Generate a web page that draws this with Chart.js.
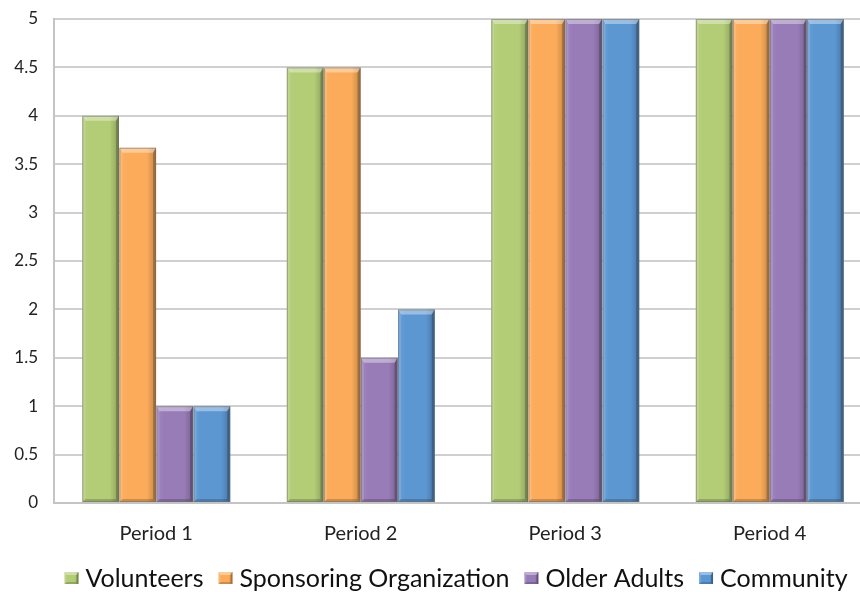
<!DOCTYPE html>
<html>
<head>
<meta charset="utf-8">
<script src="https://cdn.jsdelivr.net/npm/chart.js@4/dist/chart.umd.min.js"></script>
<style>
  html, body { margin: 0; padding: 0; background: #fff; overflow: hidden; }
  #wrap { width: 880px; height: 592px; position: relative; }
</style>
</head>
<body>
<div id="wrap"><canvas id="chart"></canvas></div>
<script>
// Periods on the x axis
const categories = ['Period 1', 'Period 2', 'Period 3', 'Period 4'];

// Ratings per group
const volunteers  = [4, 4.5, 5, 5];
const sponsoring  = [3.67, 4.5, 5, 5];
const olderAdults = [1, 1.5, 5, 5];
const community   = [1, 2, 5, 5];

const seriesNames = ['Volunteers', 'Sponsoring Organization', 'Older Adults', 'Community'];
const fills = ['#b3cc76', '#fbab5a', '#987cb8', '#5c97d2'];

// Draws a bevelled "3-D" rectangle overlay on top of an already filled box
function bevelBox(ctx, l, t, r, b, s, tb) {
  const g = ctx.createLinearGradient(l, 0, r, 0);
  g.addColorStop(0, 'rgba(255,255,255,0.08)');
  g.addColorStop(0.2, 'rgba(255,255,255,0)');
  g.addColorStop(0.75, 'rgba(0,0,0,0)');
  g.addColorStop(1, 'rgba(0,0,0,0.22)');
  ctx.fillStyle = g;
  ctx.fillRect(l, t, r - l, b - t);
  ctx.fillStyle = 'rgba(255,255,255,0.38)';
  ctx.beginPath();
  ctx.moveTo(l, t); ctx.lineTo(r, t); ctx.lineTo(r - s, t + tb); ctx.lineTo(l + s, t + tb);
  ctx.closePath(); ctx.fill();
  ctx.fillStyle = 'rgba(0,0,0,0.22)';
  ctx.beginPath();
  ctx.moveTo(r, t); ctx.lineTo(r, b); ctx.lineTo(r - s, b - s); ctx.lineTo(r - s, t + tb);
  ctx.closePath(); ctx.fill();
  ctx.fillStyle = 'rgba(0,0,0,0.18)';
  ctx.beginPath();
  ctx.moveTo(l, b); ctx.lineTo(r, b); ctx.lineTo(r - s, b - s); ctx.lineTo(l + s, b - s);
  ctx.closePath(); ctx.fill();
  ctx.fillStyle = 'rgba(255,255,255,0.12)';
  ctx.beginPath();
  ctx.moveTo(l, t); ctx.lineTo(l, b); ctx.lineTo(l + s, b - s); ctx.lineTo(l + s, t + tb);
  ctx.closePath(); ctx.fill();
}

// Bevel on each bar, taken from the bar elements' own geometry
const bevel = {
  id: 'bevel',
  afterDatasetsDraw(chart) {
    const ctx = chart.ctx;
    chart.data.datasets.forEach((ds, i) => {
      chart.getDatasetMeta(i).data.forEach(bar => {
        const p = bar.getProps(['x', 'y', 'base', 'width'], true);
        const l = p.x - p.width / 2, r = p.x + p.width / 2;
        const t = Math.min(p.y, p.base), b = Math.max(p.y, p.base);
        ctx.save();
        bevelBox(ctx, l, t, r, b, 3, 5);
        ctx.strokeStyle = 'rgba(110,110,110,0.55)';
        ctx.lineWidth = 1;
        ctx.strokeRect(l + 0.5, t + 0.5, r - l - 1, b - t - 1);
        ctx.restore();
      });
    });
  }
};

// Compact legend row under the axis labels
const compactLegend = {
  id: 'compactLegend',
  afterDraw(chart) {
    const ctx = chart.ctx;
    const font = '25px Lato';
    const box = 14, gapText = 7, gapItem = 15;
    ctx.save();
    ctx.font = font;
    const items = chart.data.datasets.map(ds => ({ text: ds.label, color: ds.backgroundColor, w: ctx.measureText(ds.label).width }));
    const total = items.reduce((s, it) => s + box + gapText + it.w, 0) + gapItem * (items.length - 1);
    let x = 456 - total / 2;
    const cy = 579;
    ctx.textBaseline = 'middle';
    ctx.textAlign = 'left';
    items.forEach(it => {
      ctx.fillStyle = it.color;
      ctx.fillRect(x, cy - 7, box, 12);
      bevelBox(ctx, x, cy - 7, x + box, cy + 5, 2, 3);
      ctx.fillStyle = '#111';
      ctx.fillText(it.text, x + box + gapText, cy);
      x += box + gapText + it.w + gapItem;
    });
    ctx.restore();
  }
};

const data = {
  labels: categories,
  datasets: [volunteers, sponsoring, olderAdults, community].map((vals, i) => ({
    label: seriesNames[i],
    data: vals,
    backgroundColor: fills[i],
    borderWidth: 0,
    barPercentage: 0.99,
    categoryPercentage: 0.725
  }))
};

new Chart(document.getElementById('chart'), {
  type: 'bar',
  data,
  plugins: [bevel, compactLegend],
  options: {
    responsive: true,
    maintainAspectRatio: false,
    animation: false,
    layout: { padding: { top: 19, right: 8, left: 0, bottom: 37 } },
    scales: {
      x: {
        grid: { display: false, drawTicks: false },
        border: { display: true, color: '#c4c4c4', width: 2 },
        ticks: { padding: 19, color: '#222', font: { family: 'Lato', size: 20 } },
        afterFit(scale) { scale.height = 52; }
      },
      y: {
        min: 0, max: 5,
        ticks: {
          stepSize: 0.5, padding: 16, color: '#222',
          font: { family: 'Lato', size: 17 },
          callback: v => String(v)
        },
        grid: { color: '#d0d0d0', lineWidth: 2, drawTicks: false },
        border: { display: true, color: '#c4c4c4', width: 2 },
        afterFit(scale) {
          scale.width = 54;
          scale.paddingTop = 0;
          scale.paddingBottom = 0;
        }
      }
    },
    plugins: {
      legend: { display: false },
      tooltip: { enabled: false }
    }
  }
});
</script>
</body>
</html>
